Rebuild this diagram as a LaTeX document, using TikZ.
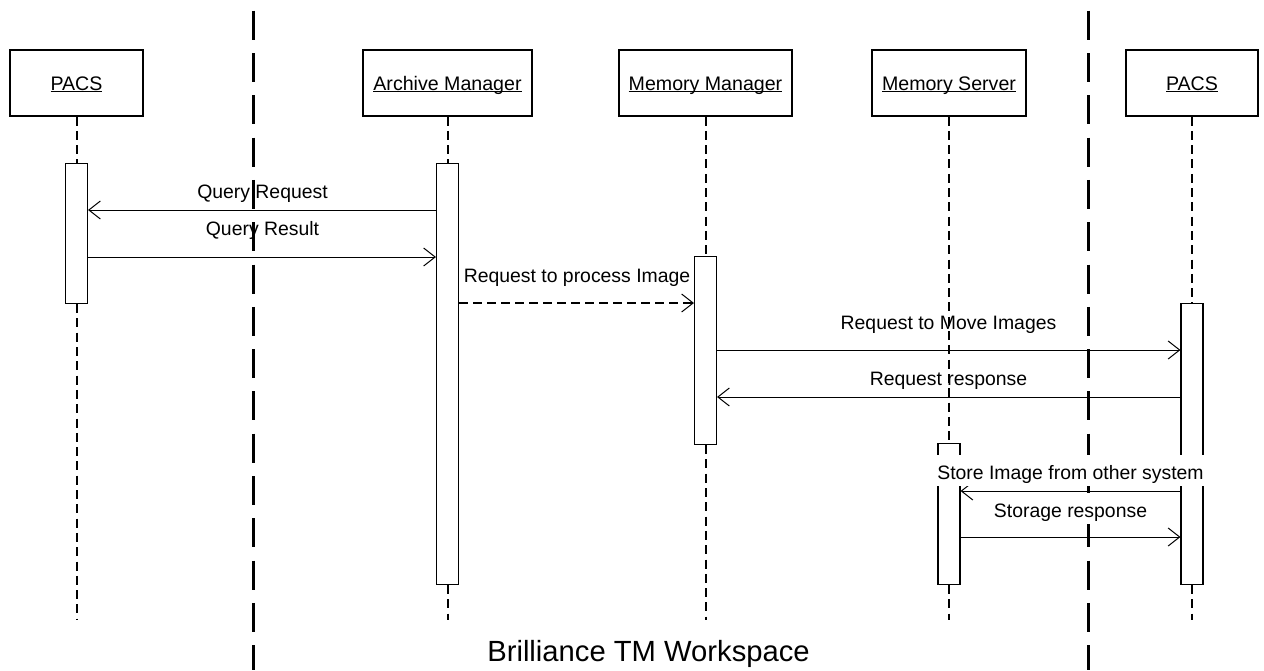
\documentclass[tikz,border=0pt]{standalone}
\usepackage{fontspec}
\setmainfont{Liberation Sans}
\usetikzlibrary{arrows.meta}
\newcommand\hdul[1]{\setbox0\hbox{#1}\rlap{\rule[-2pt]{\wd0}{1pt}}\box0}
\begin{document}
\begin{tikzpicture}[x=1pt,y=-1pt,
  hdr/.style={draw, line width=1.1pt, minimum height=66pt, inner sep=0pt,
    font=\fontsize{19.6}{22}\selectfont, text height=15pt, text depth=1pt},
  act/.style={draw, fill=white, line width=1.1pt, minimum width=22pt, inner sep=0pt, anchor=north},
  life/.style={line width=2pt, dash pattern=on 9pt off 5.3pt},
  sep/.style={line width=3pt, dash pattern=on 29pt off 13.3pt},
  msg/.style={line width=1pt, -{Straight Barb[length=11.5pt,width=18pt,line width=1pt]}},
  dmsg/.style={msg, line width=1.6pt, dash pattern=on 9pt off 5pt},
  lbl/.style={font=\fontsize{19.4}{22}\selectfont, inner sep=0pt, anchor=base},
  wlbl/.style={lbl, fill=white, text height=23pt, text depth=6pt, inner ysep=1pt, inner xsep=1pt},
]
\useasboundingbox (0,0) rectangle (1264,670);

% system boundaries
\coordinate (s1t) at (253,10.7);
\coordinate (s1b) at (253,670);
\coordinate (s2t) at (1088,10.7);
\coordinate (s2b) at (1088,670);
\draw[sep] (s1t) -- (s1b);
\draw[sep] (s2t) -- (s2b);

% headers
\node[hdr, minimum width=133pt] (hP1) at (76.5,83) {\hdul{PACS}};
\node[hdr, minimum width=169pt] (hAM) at (447.5,83) {\hdul{Archive Manager}};
\node[hdr, minimum width=173pt] (hMM) at (705.5,83) {\hdul{Memory Manager}};
\node[hdr, minimum width=154pt] (hMS) at (949,83) {\hdul{Memory Server}};
\node[hdr, minimum width=132pt] (hP2) at (1192,83) {\hdul{PACS}};

% lifeline ends
\coordinate (eP1) at (76.5,620);
\coordinate (eAM) at (447.5,620);
\coordinate (eMM) at (705.5,620);
\coordinate (eMS) at (949,620);
\coordinate (eP2) at (1192,620);

% activations
\node[act, minimum height=140pt] (aP1) at (76.5,163) {};
\node[act, minimum height=421pt] (aAM) at (447.5,163) {};
\node[act, minimum height=188pt] (aMM) at (705.5,256) {};
\node[act, minimum height=141pt] (aMS) at (949,443) {};
\node[act, minimum height=281pt] (aP2) at (1192,303) {};

% lifelines
\foreach \n in {P1,AM,MM,MS,P2}{
  \draw[life] (h\n.south) -- (a\n.north);
  \draw[life] (a\n.south) -- (e\n);
}
% redraw activations on top of lifelines
\node[act, minimum height=140pt] at (76.5,163) {};
\node[act, minimum height=421pt] at (447.5,163) {};
\node[act, minimum height=188pt] at (705.5,256) {};
\node[act, minimum height=141pt] at (949,443) {};
\node[act, minimum height=281pt] at (1192,303) {};

% messages
\draw[msg] (aAM.west |- 0,210) -- (aP1.east |- 0,210);
\node[lbl] (lQReq) at (262.5,198) {Query Request};
\draw[msg] (aP1.east |- 0,257) -- (aAM.west |- 0,257);
\node[lbl] (lQRes) at (262.5,235) {Query Result};
\draw[dmsg] (aAM.east |- 0,303) -- (aMM.west |- 0,303);
\node[lbl] (lProc) at (577,282) {Request to process Image};
\draw[msg] (aMM.east |- 0,350) -- (aP2.west |- 0,350);
\node[lbl] (lMove) at (948.5,329) {Request to Move Images};
\draw[msg] (aP2.west |- 0,397) -- (aMM.east |- 0,397);
\node[lbl] (lResp) at (948.5,385) {Request response};
\draw[msg] (aP2.west |- 0,491) -- (aMS.east |- 0,491);
\node[wlbl] (lStore) at (1070.5,479) {Store Image from other system};
\draw[msg] (aMS.east |- 0,537) -- (aP2.west |- 0,537);
\node[wlbl] (lStRes) at (1070.5,517) {Storage response};

% title
\node[font=\fontsize{29.2}{34}\selectfont, inner sep=0pt, anchor=base] (title) at (648.5,661) {Brilliance TM Workspace};
\end{tikzpicture}
\end{document}
